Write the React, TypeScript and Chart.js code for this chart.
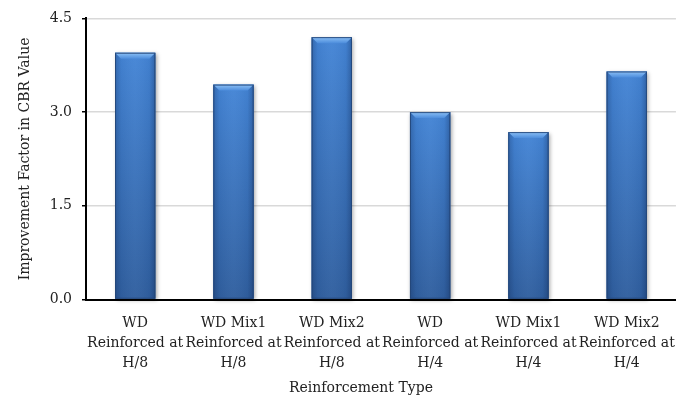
import React, { useEffect, useRef } from "react";
import { Chart, registerables } from "chart.js";

Chart.register(...registerables);

const categories: string[][] = [
  ["WD", "Reinforced at", "H/8"],
  ["WD Mix1", "Reinforced at", "H/8"],
  ["WD Mix2", "Reinforced at", "H/8"],
  ["WD", "Reinforced at", "H/4"],
  ["WD Mix1", "Reinforced at", "H/4"],
  ["WD Mix2", "Reinforced at", "H/4"],
];
const improvementFactor: number[] = [3.95, 3.44, 4.2, 3.0, 2.68, 3.65];
const yTicks: number[] = [0, 1.5, 3.0, 4.5];
const xTitle = "Reinforcement Type";
const yTitle = "Improvement Factor in CBR Value";

const FONT = "'DejaVu Serif', serif";

const bevelBars = {
  id: "bevelBars",
  afterDatasetsDraw(chart: any) {
    const ctx: CanvasRenderingContext2D = chart.ctx;
    const meta = chart.getDatasetMeta(0);
    meta.data.forEach((el: any) => {
      const { x, y, base, width } = el.getProps(["x", "y", "base", "width"], true);
      const x0 = x - width / 2;
      const x1 = x + width / 2;
      const h = base - y;
      ctx.save();
      ctx.shadowColor = "rgba(0,0,0,0.35)";
      ctx.shadowBlur = 4;
      ctx.shadowOffsetX = 1.5;
      ctx.shadowOffsetY = 1.5;
      const vg = ctx.createLinearGradient(0, y, 0, base);
      vg.addColorStop(0, "#4485d6");
      vg.addColorStop(1, "#305f9f");
      ctx.fillStyle = vg;
      ctx.fillRect(x0, y, width, h);
      ctx.restore();
      ctx.save();
      const hg = ctx.createLinearGradient(x0, 0, x1, 0);
      hg.addColorStop(0, "rgba(10,30,70,0.28)");
      hg.addColorStop(0.15, "rgba(10,30,70,0.05)");
      hg.addColorStop(0.5, "rgba(255,255,255,0.03)");
      hg.addColorStop(0.85, "rgba(10,30,70,0.05)");
      hg.addColorStop(1, "rgba(10,30,70,0.32)");
      ctx.fillStyle = hg;
      ctx.fillRect(x0, y, width, h);
      const b = Math.min(6, h / 2);
      const tg = ctx.createLinearGradient(0, y, 0, y + b);
      tg.addColorStop(0, "#8cc0f5");
      tg.addColorStop(1, "#4d8ddc");
      ctx.beginPath();
      ctx.moveTo(x0, y);
      ctx.lineTo(x1, y);
      ctx.lineTo(x1 - b, y + b);
      ctx.lineTo(x0 + b, y + b);
      ctx.closePath();
      ctx.fillStyle = tg;
      ctx.fill();
      ctx.strokeStyle = "rgba(35,70,120,0.9)";
      ctx.lineWidth = 1;
      ctx.strokeRect(x0 + 0.5, y + 0.5, width - 1, h - 1);
      ctx.restore();
    });
  },
};

// X-axis title, centred slightly left of the plot centre as in the reference
const xTitlePlugin = {
  id: "xTitlePlugin",
  afterDraw(chart: any) {
    const ctx: CanvasRenderingContext2D = chart.ctx;
    const area = chart.chartArea;
    ctx.save();
    ctx.font = `14px ${FONT}`;
    ctx.fillStyle = "#222";
    ctx.textAlign = "center";
    ctx.textBaseline = "middle";
    ctx.fillText(xTitle, (area.left + area.right) / 2 - 20, chart.height - 11);
    ctx.restore();
  },
};

export default function App() {
  const canvasRef = useRef<HTMLCanvasElement | null>(null);

  useEffect(() => {
    document.body.style.margin = "0";
    const canvas = canvasRef.current;
    if (!canvas) return;
    const chart = new Chart(canvas, {
      type: "bar",
      data: {
        labels: categories,
        datasets: [
          {
            data: improvementFactor,
            backgroundColor: "#3f78c2",
            borderWidth: 0,
            barPercentage: 0.41,
            categoryPercentage: 1,
          },
        ],
      },
      options: {
        responsive: false,
        animation: false,
        devicePixelRatio: 1,
        layout: { padding: { top: 12, right: 14, left: 0, bottom: 0 } },
        plugins: {
          legend: { display: false },
          tooltip: { enabled: false },
        },
        scales: {
          x: {
            afterFit: (scale: any) => {
              scale.height = 99.5;
            },
            grid: { display: true, color: "transparent", drawTicks: false },
            border: { display: true, color: "#000", width: 2 },
            ticks: {
              color: "#222",
              font: { family: FONT, size: 14, lineHeight: 1.43 },
              padding: 14,
              maxRotation: 0,
              autoSkip: false,
            },
            title: { display: false, text: xTitle },
          },
          y: {
            min: 0,
            max: 4.5,
            afterBuildTicks: (scale: any) => {
              scale.ticks = yTicks.map((v) => ({ value: v }));
            },
            afterFit: (scale: any) => {
              scale.width = 86;
            },
            grid: {
              color: "#d9d9d9",
              lineWidth: 1.5,
              drawTicks: true,
              tickLength: 4,
              tickColor: "#000",
            },
            border: { display: true, color: "#000", width: 2 },
            ticks: {
              color: "#222",
              font: { family: FONT, size: 14 },
              padding: 10,
              callback: (v: any) => Number(v).toFixed(1),
            },
            title: {
              display: true,
              text: yTitle,
              color: "#222",
              font: { family: FONT, size: 14, lineHeight: 1.2 },
              padding: { top: 17, bottom: 0 },
            },
          },
        },
      },
      plugins: [bevelBars, xTitlePlugin],
    });
    return () => chart.destroy();
  }, []);

  return (
    <div style={{ width: 690, height: 399, background: "#fff" }}>
      <canvas ref={canvasRef} width={690} height={399} style={{ display: "block" }} />
    </div>
  );
}
